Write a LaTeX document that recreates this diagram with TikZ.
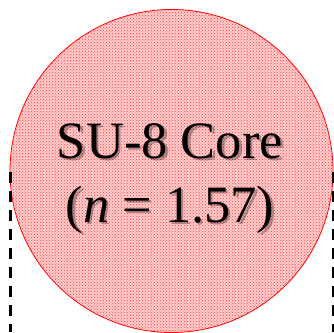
\documentclass[tikz,border=0pt]{standalone}
\usepackage{fontspec}
\setmainfont{Liberation Serif}
\usetikzlibrary{patterns}
\definecolor{corefill}{RGB}{255,205,205}
\definecolor{coredot}{RGB}{255,60,60}
\begin{document}
\begin{tikzpicture}[x=1pt,y=-1pt,
  corestyle/.style={circle, draw=red, line width=0.8pt, fill=corefill, inner sep=0pt, minimum size=323pt},
  bigtext/.style={font=\fontsize{52.5}{60}\selectfont, inner sep=0pt, anchor=base},
  shadowtext/.style={bigtext, text=black, opacity=0.3},
  cladline/.style={line width=3pt, dash pattern=on 11pt off 8pt}]
\useasboundingbox (0,0) rectangle (334,332);
\node[corestyle] (core) at (171.5,171) {};
\fill[pattern=crosshatch dots, pattern color=coredot] (core.center) circle (161pt);
\node[shadowtext] (s1) at (172.5,160.5) {SU-8 Core};
\node[shadowtext] (s2) at (172.5,224.5) {(\textit{n} = 1.57)};
\node[bigtext] (line1) at (170,158) {SU-8 Core};
\node[bigtext] (line2) at (170,222) {(\textit{n} = 1.57)};
\coordinate (lt) at (10,172);
\coordinate (lb) at (10,332);
\coordinate (rt) at (333,172);
\coordinate (rb) at (333,332);
\draw[cladline] (lt) -- (lb);
\draw[cladline] (rt) -- (rb);
\end{tikzpicture}
\end{document}
